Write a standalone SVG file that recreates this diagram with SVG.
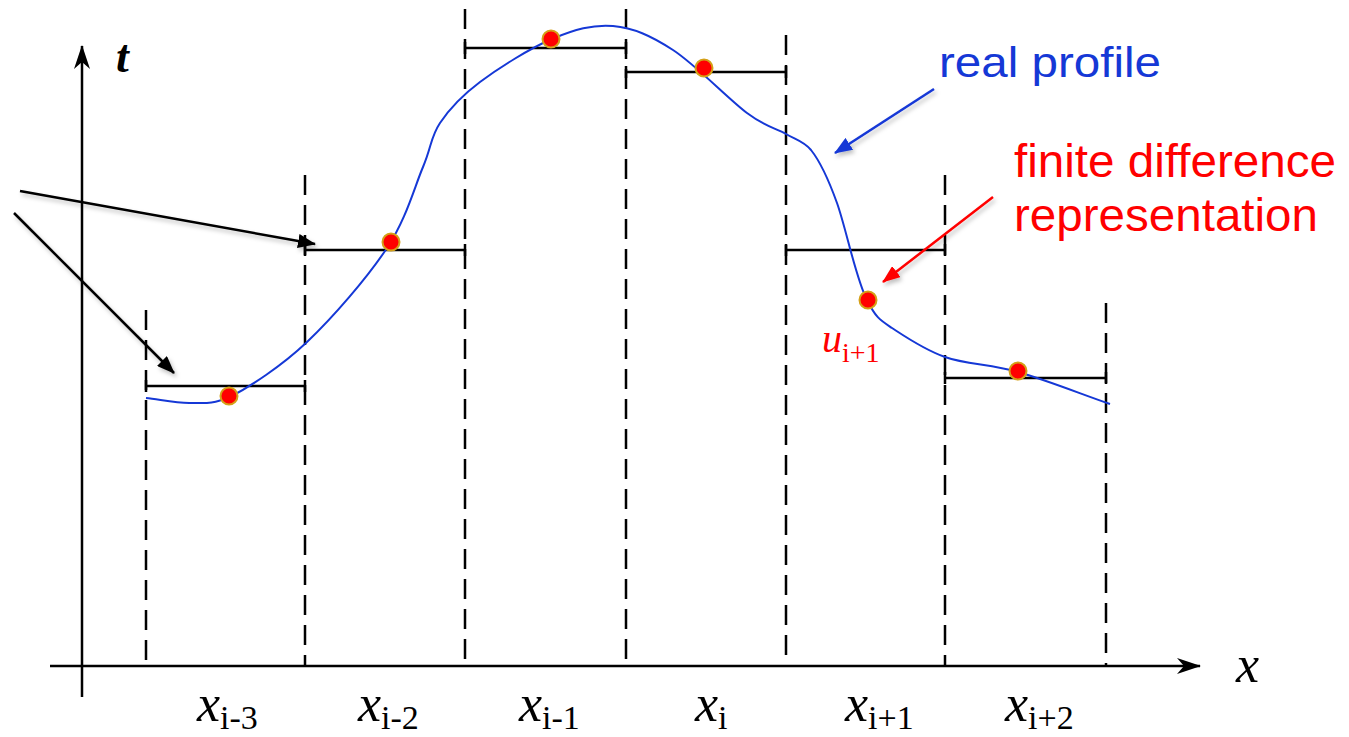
<svg xmlns="http://www.w3.org/2000/svg" width="1349" height="737" viewBox="0 0 1349 737">
<style>
.axis{stroke:#000;stroke-width:2.5;fill:none}
.dash{stroke:#000;stroke-width:2.5;stroke-dasharray:20 10;fill:none}
.step{stroke:#000;stroke-width:2.5;fill:none}
.curve{stroke:#1538d6;stroke-width:2;fill:none}
.pt{fill:#ff0000;stroke:#d4a017;stroke-width:2}
.ann{stroke:#000;stroke-width:2.5;fill:none}
.math{font-family:"Liberation Serif","Times New Roman",serif}
.it{font-style:italic}
.sans{font-family:"Liberation Sans",Arial,sans-serif}
</style>
<defs>
<marker id="axhead" markerUnits="userSpaceOnUse" viewBox="0 0 24 16" refX="23" refY="8" markerWidth="24" markerHeight="16" orient="auto">
<path d="M0,0 L24,8 L0,16 L7,8 Z" fill="#000"/>
</marker>
<marker id="blk" markerUnits="userSpaceOnUse" viewBox="0 0 18 14" refX="17" refY="7" markerWidth="18" markerHeight="14" orient="auto">
<path d="M0,0 L18,7 L0,14 Z" fill="#000"/>
</marker>
<marker id="blu" markerUnits="userSpaceOnUse" viewBox="0 0 18 14" refX="17" refY="7" markerWidth="18" markerHeight="14" orient="auto">
<path d="M0,0 L18,7 L0,14 Z" fill="#1538d6"/>
</marker>
<marker id="red" markerUnits="userSpaceOnUse" viewBox="0 0 18 14" refX="17" refY="7" markerWidth="18" markerHeight="14" orient="auto">
<path d="M0,0 L18,7 L0,14 Z" fill="#ff0000"/>
</marker>
<filter id="sh" x="-10%" y="-10%" width="130%" height="130%">
<feDropShadow dx="2" dy="3" stdDeviation="2" flood-color="#000" flood-opacity="0.25"/>
</filter>
</defs>
<rect width="1349" height="737" fill="#fff"/>

<g id="axes">
<line class="axis" x1="82" y1="697" x2="82" y2="46" marker-end="url(#axhead)"/>
<line class="axis" x1="50" y1="666" x2="1200" y2="666" marker-end="url(#axhead)"/>
</g>

<g id="grid">
<line class="dash" x1="146" y1="310" x2="146" y2="666"/>
<line class="dash" x1="305" y1="175" x2="305" y2="666"/>
<line class="dash" x1="465" y1="9" x2="465" y2="666"/>
<line class="dash" x1="626" y1="9" x2="626" y2="666"/>
<line class="dash" x1="786" y1="35" x2="786" y2="666"/>
<line class="dash" x1="945" y1="175" x2="945" y2="666"/>
<line class="dash" x1="1106" y1="303" x2="1106" y2="666"/>
</g>

<g id="steps">
<path class="step" d="M146,386 H305 M146,380 V392 M305,380 V392"/>
<path class="step" d="M305,250 H465 M305,244 V256 M465,244 V256"/>
<path class="step" d="M465,48 H626 M465,42 V54 M626,42 V54"/>
<path class="step" d="M626,72 H786 M626,66 V78 M786,66 V78"/>
<path class="step" d="M786,250 H945 M786,244 V256 M945,244 V256"/>
<path class="step" d="M945,378 H1106 M945,372 V384 M1106,372 V384"/>
</g>

<g id="curve">
<path class="curve" d="M146,398 C160.7,399.7 176,403.2 190,403 C204,402.8 210.5,405 230,397 C249.5,386.8 280.8,366.8 307,342 C333.2,317.2 367.7,277.2 387,248 C406.3,218.8 414.2,187.8 423,167 C431.8,146.2 430.5,137.2 440,123 C449.5,108.8 461.3,96 480,82 C498.7,68 529.8,48.3 552,39 C574.2,29.7 592.8,24.2 613,26 C633.2,27.8 650.7,35.5 673,50 C695.3,64.5 728.2,98.8 747,113 C765.8,127.2 776,128 786,134 C796,140 803.5,141 811,150 C820,161.3 828,178 837,203 C846,228 856,279.3 867,300 C876,318 880,320 892,328 C905,336.5 923.7,349.5 945,357 C966.3,364.5 990.5,364.2 1018,372 C1045.5,379.8 1079.3,393.3 1110,404"/>
</g>

<g id="points">
<circle class="pt" cx="229" cy="396" r="8.5"/>
<circle class="pt" cx="391" cy="242" r="8.5"/>
<circle class="pt" cx="551" cy="39" r="8.5"/>
<circle class="pt" cx="704" cy="68" r="8.5"/>
<circle class="pt" cx="868" cy="300" r="8.5"/>
<circle class="pt" cx="1018" cy="371" r="8.5"/>
</g>

<g id="connectors" filter="url(#sh)">
<line class="ann" x1="20" y1="191" x2="315" y2="244" marker-end="url(#blk)"/>
<line class="ann" x1="14" y1="213" x2="174" y2="373" marker-end="url(#blk)"/>
<line x1="934" y1="89" x2="835" y2="153" stroke="#1538d6" stroke-width="2.5" marker-end="url(#blu)"/>
<line x1="993" y1="197" x2="883" y2="282" stroke="#ff0000" stroke-width="2.5" marker-end="url(#red)"/>
</g>

<g id="label-real-profile">
<text class="sans" x="939" y="77" font-size="43" fill="#1538d6" textLength="222" lengthAdjust="spacingAndGlyphs">real profile</text>
</g>
<g id="label-fd">
<text class="sans" x="1014" y="177" font-size="46" fill="#ff0000" textLength="322" lengthAdjust="spacingAndGlyphs">finite difference</text>
<text class="sans" x="1014" y="231" font-size="46" fill="#ff0000" textLength="304" lengthAdjust="spacingAndGlyphs">representation</text>
</g>

<g id="label-u">
<text class="math" x="822" y="352" font-size="40" fill="#ff0000"><tspan class="it">u</tspan><tspan font-size="28" dy="10">i+1</tspan></text>
</g>

<g id="axis-labels" fill="#000">
<text class="math it" x="116" y="72" font-size="46" font-weight="bold">t</text>
<text class="math it" x="1236" y="682" font-size="52">x</text>
<text class="math" x="197" y="721" font-size="52"><tspan class="it">x</tspan><tspan font-size="34" dy="8">i-3</tspan></text>
<text class="math" x="358" y="721" font-size="52"><tspan class="it">x</tspan><tspan font-size="34" dy="8">i-2</tspan></text>
<text class="math" x="519" y="721" font-size="52"><tspan class="it">x</tspan><tspan font-size="34" dy="8">i-1</tspan></text>
<text class="math" x="695" y="721" font-size="52"><tspan class="it">x</tspan><tspan font-size="34" dy="8">i</tspan></text>
<text class="math" x="845" y="721" font-size="52"><tspan class="it">x</tspan><tspan font-size="34" dy="8">i+1</tspan></text>
<text class="math" x="1005" y="721" font-size="52"><tspan class="it">x</tspan><tspan font-size="34" dy="8">i+2</tspan></text>
</g>
</svg>
